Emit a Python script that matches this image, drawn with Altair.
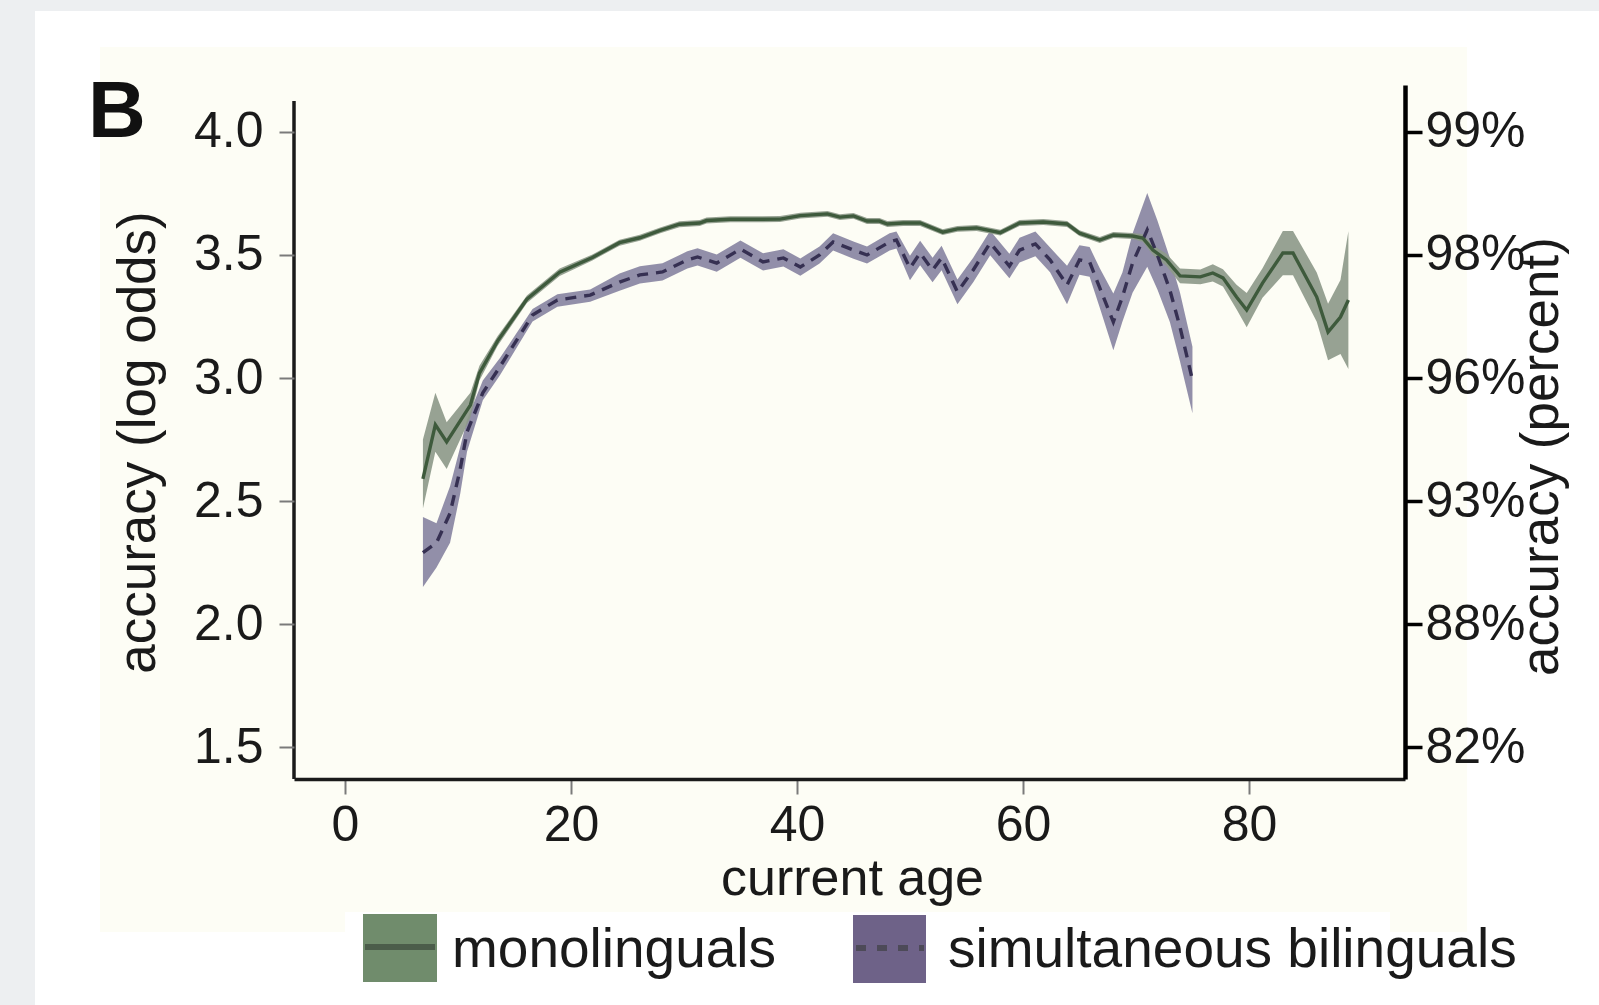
import altair as alt
import pandas as pd

# ---------------- data ----------------
series_names = ["monolinguals", "simultaneous bilinguals"]

mono_age = [6.9, 8.0, 9.0, 11.1, 11.9, 13.5, 16.1, 19.0, 21.9,
            24.3, 26.1, 27.9, 29.6, 31.4, 32.0, 34.1, 36.1, 38.5,
            40.3, 42.7, 43.8, 45.0, 46.2, 47.3, 48.0, 49.4, 50.9,
            52.9, 54.2, 55.9, 58.0, 59.7, 61.8, 63.9, 65.0, 66.8,
            68.0, 69.7, 70.6, 71.5, 72.7, 73.9, 75.7, 76.8, 77.7,
            78.9, 79.8, 81.2, 83.0, 83.9, 86.0, 87.0, 88.1, 88.8]
mono_val = [2.59, 2.81, 2.74, 2.89, 3.02, 3.15, 3.32, 3.43, 3.49,
            3.55, 3.57, 3.60, 3.625, 3.63, 3.64, 3.645, 3.645, 3.646,
            3.66, 3.667, 3.654, 3.659, 3.638, 3.638, 3.626, 3.63, 3.63,
            3.593, 3.606, 3.61, 3.591, 3.63, 3.634, 3.626, 3.589, 3.561,
            3.581, 3.577, 3.569, 3.52, 3.48, 3.415, 3.411, 3.427, 3.407,
            3.329, 3.276, 3.386, 3.508, 3.508, 3.329, 3.187, 3.248, 3.317]
mono_lo = [2.47, 2.70, 2.63, 2.84, 2.99, 3.13, 3.305, 3.415, 3.478,
           3.538, 3.558, 3.588, 3.613, 3.618, 3.628, 3.633, 3.633, 3.634,
           3.648, 3.655, 3.642, 3.647, 3.626, 3.626, 3.614, 3.618, 3.618,
           3.581, 3.594, 3.598, 3.579, 3.618, 3.622, 3.614, 3.577, 3.549,
           3.569, 3.565, 3.554, 3.50, 3.455, 3.385, 3.381, 3.392, 3.372,
           3.279, 3.206, 3.326, 3.418, 3.418, 3.229, 3.072, 3.098, 3.037]
mono_hi = [2.75, 2.94, 2.82, 2.94, 3.05, 3.17, 3.335, 3.445, 3.502,
           3.562, 3.582, 3.612, 3.637, 3.642, 3.652, 3.657, 3.657, 3.658,
           3.672, 3.679, 3.666, 3.671, 3.65, 3.65, 3.638, 3.642, 3.642,
           3.605, 3.618, 3.622, 3.603, 3.642, 3.646, 3.638, 3.601, 3.573,
           3.593, 3.589, 3.584, 3.54, 3.505, 3.445, 3.441, 3.462, 3.442,
           3.379, 3.346, 3.446, 3.598, 3.598, 3.429, 3.302, 3.398, 3.597]

bi_age = [6.9, 8.1, 9.3, 10.2, 10.8, 12.2, 13.7, 16.6, 18.8, 21.7,
          24.3, 26.1, 28.1, 30.3, 31.2, 32.9, 35.0, 37.0, 38.8, 40.3,
          42.0, 43.2, 45.0, 46.2, 48.2, 48.8, 50.0, 50.9, 52.0, 52.8,
          54.2, 55.6, 57.1, 58.8, 59.7, 61.1, 62.4, 63.9, 65.0, 65.9,
          66.8, 68.0, 68.8, 69.7, 71.0, 71.9, 73.0, 73.9, 75.0]
bi_val = [2.29, 2.33, 2.45, 2.63, 2.78, 2.94, 3.045, 3.256, 3.317, 3.337,
          3.39, 3.419, 3.431, 3.48, 3.492, 3.467, 3.524, 3.472, 3.488, 3.451,
          3.50, 3.553, 3.52, 3.50, 3.553, 3.561, 3.447, 3.508, 3.439, 3.488,
          3.35, 3.439, 3.549, 3.455, 3.52, 3.545, 3.48, 3.378, 3.48, 3.472,
          3.366, 3.228, 3.329, 3.467, 3.602, 3.50, 3.358, 3.207, 2.992]
bi_lo = [2.15, 2.23, 2.33, 2.53, 2.70, 2.91, 3.01, 3.23, 3.29, 3.31,
         3.355, 3.384, 3.396, 3.445, 3.457, 3.432, 3.489, 3.437, 3.453, 3.416,
         3.465, 3.518, 3.485, 3.465, 3.518, 3.526, 3.397, 3.458, 3.389, 3.438,
         3.30, 3.389, 3.499, 3.405, 3.47, 3.495, 3.43, 3.30, 3.42, 3.412,
         3.286, 3.113, 3.229, 3.347, 3.452, 3.36, 3.228, 3.067, 2.857]
bi_hi = [2.435, 2.41, 2.56, 2.72, 2.83, 2.99, 3.08, 3.28, 3.34, 3.36,
         3.425, 3.454, 3.466, 3.515, 3.527, 3.502, 3.559, 3.507, 3.523, 3.486,
         3.535, 3.588, 3.555, 3.535, 3.588, 3.596, 3.497, 3.558, 3.489, 3.538,
         3.40, 3.489, 3.599, 3.505, 3.57, 3.595, 3.53, 3.456, 3.54, 3.532,
         3.446, 3.343, 3.429, 3.587, 3.752, 3.64, 3.488, 3.347, 3.127]

y_ticks = [1.5, 2.0, 2.5, 3.0, 3.5, 4.0]
pct_labels = ["82%", "88%", "93%", "96%", "98%", "99%"]
x_ticks = [0, 20, 40, 60, 80]

panel_label = "B"
x_title = "current age"
y_title_left = "accuracy (log odds)"
y_title_right = "accuracy (percent)"

mono_df = pd.DataFrame({"age": mono_age, "val": mono_val, "lo": mono_lo, "hi": mono_hi})
bi_df = pd.DataFrame({"age": bi_age, "val": bi_val, "lo": bi_lo, "hi": bi_hi})

# ---------------- styling ----------------
FONT = "Liberation Sans"
INK = "#1a1a1a"
W, H = 1111, 694
xs = alt.Scale(domain=[-4.51, 93.81], nice=False, zero=False)
ys = alt.Scale(domain=[1.370, 4.191], nice=False, zero=False)

green_band = "#8e9a8a"
green_line = "#3e5a3c"
purple_band = "#8985a2"
purple_line = "#363052"
green_swatch = "#708c6c"
purple_swatch = "#6e6288"

dummy = alt.Data(values=[{"k": 0}])


def rect(x, x2, y, y2, color):
    return alt.Chart(dummy).mark_rect(color=color, strokeWidth=0).encode(
        x=alt.value(x), x2=alt.value(x2), y=alt.value(y), y2=alt.value(y2))


x_axis = alt.Axis(values=x_ticks, format="d", grid=False, zindex=2,
                  domainColor=INK, domainWidth=3.5,
                  tickColor="#7a7a7a", tickWidth=2, tickSize=15,
                  labelFont=FONT, labelFontSize=50, labelColor=INK, labelPadding=6,
                  title=x_title, titleFont=FONT, titleFontSize=52,
                  titleFontWeight="normal", titleColor=INK,
                  titleX=558, titleY=115, titleAlign="center",
                  titleBaseline="alphabetic")

left_axis = alt.Axis(values=y_ticks, format=".1f", grid=False, domain=False, zindex=2,
                     tickColor="#7a7a7a", tickWidth=2, tickSize=15,
                     labelFont=FONT, labelFontSize=50, labelColor=INK,
                     labelPadding=16,
                     title=y_title_left, titleFont=FONT, titleFontSize=53,
                     titleFontWeight="normal", titleColor=INK, titleAngle=270,
                     titleX=-156, titleY=357, titleAlign="center",
                     titleBaseline="middle")

label_list = "[" + ",".join("'%s'" % s for s in pct_labels) + "]"
right_axis = alt.Axis(orient="right", values=y_ticks, grid=False, zindex=2,
                      domainColor="#000000", domainWidth=4.5,
                      tickColor="#000000", tickWidth=3.5, tickSize=17,
                      labelFont=FONT, labelFontSize=50, labelColor=INK,
                      labelPadding=3,
                      labelExpr=label_list + "[round((datum.value - 1.5) * 2)]",
                      title=y_title_right, titleFont=FONT, titleFontSize=53,
                      titleFontWeight="normal", titleColor=INK, titleAngle=270,
                      titleX=136, titleY=371, titleAlign="center",
                      titleBaseline="middle")

X = alt.X("age:Q", scale=xs, axis=x_axis)

# ---------------- backgrounds ----------------
bg_white = rect(-259, 1305, -74, 920, "#ffffff")
bg_yellow = rect(-194, 1173, -38, 847, "#fdfdf5")
bg_legend = rect(51, 1096, 827, 920, "#ffffff")

# ---------------- data layers ----------------
bi_area = alt.Chart(bi_df).mark_area(color=purple_band, opacity=0.92).encode(
    x=X,
    y=alt.Y("lo:Q", scale=ys, axis=left_axis, stack=None),
    y2="hi:Q")
mono_area = alt.Chart(mono_df).mark_area(color=green_band, opacity=0.92).encode(
    x=X,
    y=alt.Y("lo:Q", scale=ys, axis=None, stack=None),
    y2="hi:Q")
bi_line = alt.Chart(bi_df).mark_line(color=purple_line, strokeWidth=3.4,
                                     strokeDash=[11, 8]).encode(
    x=X, y=alt.Y("val:Q", scale=ys, axis=None))
mono_line = alt.Chart(mono_df).mark_line(color=green_line, strokeWidth=3.4).encode(
    x=X, y=alt.Y("val:Q", scale=ys, axis=None))

right_axis_layer = alt.Chart(mono_df).mark_line(opacity=0).encode(
    x=X, y=alt.Y("val:Q", scale=ys, axis=right_axis))

left_axis_line = alt.Chart(dummy).mark_rule(color=INK, strokeWidth=3.5).encode(
    x=alt.value(0), y=alt.value(16), y2=alt.value(H))

panel_text = alt.Chart(dummy).mark_text(
    text=panel_label, font=FONT, fontSize=80, fontWeight="bold", color="#111111",
    align="left", baseline="alphabetic").encode(x=alt.value(-206), y=alt.value(52))

# ---------------- legend ----------------
sw_green = rect(69, 143, 829, 897, green_swatch)
sw_purple = rect(559, 632, 830, 898, purple_swatch)
lg_green_line = alt.Chart(dummy).mark_rule(color="#4b5d4a", strokeWidth=6).encode(
    x=alt.value(71), x2=alt.value(141), y=alt.value(862))
lg_purple_line = alt.Chart(dummy).mark_rule(color="#4d4a58", strokeWidth=6,
                                            strokeDash=[10, 11]).encode(
    x=alt.value(562), x2=alt.value(630), y=alt.value(863))
lg_text1 = alt.Chart(dummy).mark_text(
    text=series_names[0], font=FONT, fontSize=55, color=INK,
    align="left", baseline="alphabetic").encode(x=alt.value(158), y=alt.value(882))
lg_text2 = alt.Chart(dummy).mark_text(
    text=series_names[1], font=FONT, fontSize=55, color=INK,
    align="left", baseline="alphabetic").encode(x=alt.value(654), y=alt.value(882))

chart = alt.layer(
    bg_white, bg_yellow, bg_legend,
    bi_area, mono_area, bi_line, mono_line,
    right_axis_layer, left_axis_line, panel_text,
    sw_green, sw_purple, lg_green_line, lg_purple_line, lg_text1, lg_text2,
).resolve_scale(y="independent").properties(
    width=W, height=H,
    autosize=alt.AutoSizeParams(type="none"),
    padding={"left": 294, "top": 85, "right": 194, "bottom": 226},
).configure(background="#edeff1").configure_view(strokeWidth=0)

chart.save("out.html", embed_options={"renderer": "svg", "actions": False})
